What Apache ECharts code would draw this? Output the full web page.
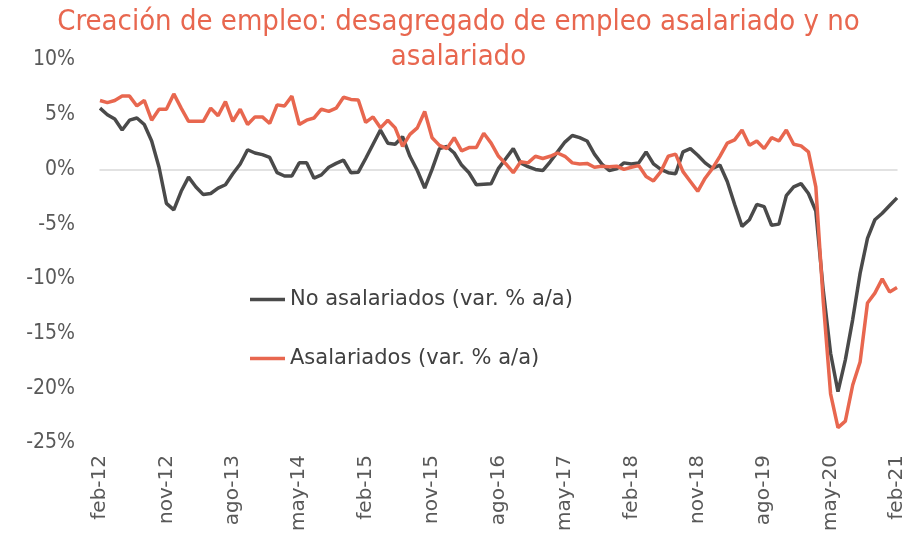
<!DOCTYPE html>
<html>
<head>
<meta charset="utf-8">
<title>Creación de empleo</title>
<script src="https://cdn.jsdelivr.net/npm/echarts@6/dist/echarts.min.js"></script>
<style>
	html, body { margin: 0; padding: 0; background: #fff; }
	#chart { width: 917px; height: 548px; }
</style>
</head>
<body>
<div id="chart"></div>
<script type="text/javascript">
	// meses de feb-12 a feb-21
	var meses = ['ene', 'feb', 'mar', 'abr', 'may', 'jun', 'jul', 'ago', 'sep', 'oct', 'nov', 'dic'];
	var categorias = [];
	for (var k = 1; k <= 109; k++) {
		var yy = 12 + Math.floor(k / 12);
		categorias.push(meses[k % 12] + '-' + yy);
	}

	// No asalariados (var. % a/a)
	var noAsalariados = [
		5.6, 5.0, 4.6, 3.6, 4.5, 4.7, 4.1, 2.6, 0.2, -3.1, -3.7, -2.0,
		-0.7, -1.6, -2.3, -2.2, -1.7, -1.4, -0.4, 0.5, 1.8, 1.5, 1.35, 1.1,
		-0.3, -0.6, -0.6, 0.6, 0.6, -0.8, -0.5, 0.2, 0.55, 0.85, -0.3, -0.25,
		1.0, 2.3, 3.6, 2.4, 2.3, 3.0, 1.2, -0.1, -1.7, 0.0, 1.9, 2.1,
		1.5, 0.4, -0.3, -1.4, -1.35, -1.3, 0.1, 1.0, 1.9, 0.6, 0.25, 0.0,
		-0.1, 0.7, 1.6, 2.5, 3.1, 2.9, 2.6, 1.4, 0.5, -0.1, 0.05, 0.6,
		0.5, 0.6, 1.6, 0.5, 0.0, -0.3, -0.4, 1.6, 1.9, 1.3, 0.6, 0.1,
		0.4, -1.1, -3.2, -5.2, -4.6, -3.2, -3.4, -5.1, -5.0, -2.4, -1.6, -1.3,
		-2.2, -3.8, -11.0, -16.8, -20.3, -17.4, -13.7, -9.5, -6.3, -4.6, -4.0, -3.3,
		-2.6
	];

	// Asalariados (var. % a/a)
	var asalariados = [
		6.3, 6.1, 6.3, 6.7, 6.7, 5.8, 6.3, 4.5, 5.5, 5.5, 6.9, 5.6,
		4.4, 4.4, 4.4, 5.6, 4.9, 6.2, 4.4, 5.5, 4.1, 4.8, 4.8, 4.2,
		5.9, 5.8, 6.7, 4.1, 4.5, 4.7, 5.5, 5.3, 5.6, 6.6, 6.4, 6.35,
		4.3, 4.8, 3.8, 4.5, 3.8, 2.1, 3.2, 3.8, 5.3, 2.9, 2.2, 1.9,
		2.9, 1.7, 2.0, 2.0, 3.3, 2.4, 1.2, 0.5, -0.3, 0.7, 0.6, 1.2,
		1.0, 1.2, 1.5, 1.2, 0.6, 0.5, 0.55, 0.2, 0.3, 0.25, 0.3, 0.0,
		0.2, 0.35, -0.65, -1.05, -0.2, 1.2, 1.4, -0.2, -1.1, -2.0, -0.8, 0.1,
		1.2, 2.4, 2.7, 3.6, 2.2, 2.6, 1.9, 2.9, 2.6, 3.6, 2.3, 2.15,
		1.6, -1.6, -12.0, -20.5, -23.6, -23.0, -19.7, -17.6, -12.2, -11.3, -10.0, -11.2,
		-10.8
	];

	var rojo = '#e8674f';
	var gris = '#4a4a4a';
	var fuenteEstrecha = "'Liberation Sans Narrow', 'DejaVu Sans Condensed', sans-serif";

	var myChart = echarts.init(document.getElementById('chart'));
	var option = {
		backgroundColor: '#ffffff',
		animation: false,
		title: {
			text: 'Creación de empleo: desagregado de empleo asalariado y no\nasalariado',
			left: 'center',
			top: 0,
			textStyle: {
				color: rojo,
				fontSize: 29,
				fontWeight: 'normal',
				fontFamily: fuenteEstrecha,
				lineHeight: 35
			}
		},
		legend: {
			orient: 'vertical',
			left: 250,
			top: 289,
			padding: 0,
			icon: 'rect',
			itemWidth: 35,
			itemHeight: 3.5,
			itemGap: 38,
			data: ['No asalariados (var. % a/a)', 'Asalariados (var. % a/a)'],
			textStyle: {
				color: '#404040',
				fontSize: 21,
				fontFamily: "'DejaVu Sans', sans-serif"
			}
		},
		grid: {
			left: 100,
			right: 20,
			top: 60,
			bottom: 105
		},
		xAxis: {
			type: 'category',
			boundaryGap: false,
			data: categorias,
			axisLine: { lineStyle: { color: '#d9d9d9', width: 1.5 } },
			axisTick: { show: false },
			axisLabel: {
				interval: 8,
				rotate: 90,
				margin: 12,
				color: '#595959',
				fontSize: 20,
				fontFamily: "'DejaVu Sans', sans-serif"
			}
		},
		yAxis: {
			type: 'value',
			min: -25,
			max: 10,
			interval: 5,
			splitLine: { show: false },
			axisLine: { show: false },
			axisTick: { show: false },
			axisLabel: {
				formatter: '{value}%',
				margin: 25,
				color: '#595959',
				fontSize: 21,
				fontFamily: fuenteEstrecha
			}
		},
		series: [
			{
				name: 'No asalariados (var. % a/a)',
				type: 'line',
				data: noAsalariados,
				symbol: 'none',
				color: gris,
				lineStyle: { color: gris, width: 3.5 }
			},
			{
				name: 'Asalariados (var. % a/a)',
				type: 'line',
				data: asalariados,
				symbol: 'none',
				color: rojo,
				lineStyle: { color: rojo, width: 3.5 }
			}
		]
	};
	myChart.setOption(option);
</script>
</body>
</html>
